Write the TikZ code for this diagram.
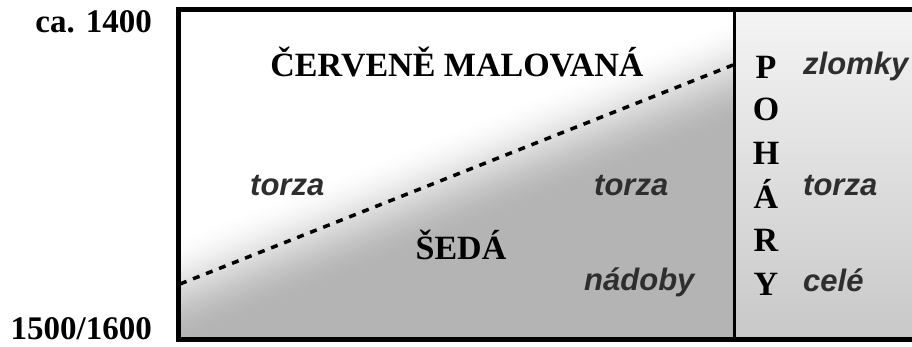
\documentclass[tikz,border=0pt]{standalone}
\usepackage{fontspec}
\setmainfont{Liberation Serif}
\newfontfamily\labelsans{Liberation Sans}
\definecolor{labelgray}{HTML}{2E2E2E}
\definecolor{rtop}{HTML}{F4F4F4}
\definecolor{rmid}{HTML}{E2E2E2}
\definecolor{rbot}{HTML}{C8C8C8}
\begin{document}
\begin{tikzpicture}[x=1pt,y=1pt,
  seriflab/.style={font=\fontsize{34}{34}\selectfont\bfseries, inner sep=0pt, text=black},
  timelab/.style={font=\fontsize{33}{33}\selectfont\bfseries, inner sep=0pt, text=black},
  sanslab/.style={font=\labelsans\fontsize{31}{31}\selectfont\bfseries\itshape, inner sep=0pt, text=labelgray},
  frameline/.style={line width=5pt, line join=miter},
  divline/.style={line width=3pt},
  bordline/.style={line width=3.5pt, dash pattern=on 7pt off 7pt}]
\useasboundingbox (0,0) rectangle (912,347);
% coordinates
\coordinate (tl) at (178.5,337.5);
\coordinate (bl) at (178.5,7.5);
\coordinate (tr) at (912,337.5);
\coordinate (br) at (912,7.5);
\coordinate (dt) at (734.5,337.5);
\coordinate (db) at (734.5,7.5);
\coordinate (lineL) at (180,63);
\coordinate (lineR) at (733,282);
% left panel: gradient parallel to the border line
\begin{scope}
  \clip (bl) rectangle (dt);
  \fill[white] (bl) rectangle (dt);
  \begin{scope}[shift={(456.5,172.5)}, rotate=21.6]
    \foreach \i in {0,...,100}{
      \pgfmathsetmacro\gvv{45-\i}
      \pgfmathsetmacro\gtt{\i/100}
      \pgfmathsetmacro\gpp{29.4*\gtt*\gtt*(3-2*\gtt)}
      \fill[black!\gpp] (-800,\gvv) rectangle (800,-500);
    }
  \end{scope}
\end{scope}
% right panel
\shade[top color=rtop, middle color=rmid, bottom color=rbot] (db) rectangle (tr);
% frame
\draw[frameline] (tr) -- (tl) -- (bl) -- (br);
\draw[divline] (dt) -- (db);
\draw[bordline] (lineL) -- (lineR);
% time labels
\node[timelab, anchor=base east] (n1400) at (152,314) {ca. 1400};
\node[timelab, anchor=base east] (n1500) at (152,7) {1500/1600};
% left panel labels
\node[seriflab, anchor=base] (cerv) at (457,270) {ČERVENĚ MALOVANÁ};
\node[seriflab, anchor=base] (seda) at (461,87) {ŠEDÁ};
\node[sanslab, anchor=base west] (torzaL) at (250,151) {torza};
\node[sanslab, anchor=base west] (torzaM) at (594,151) {torza};
\node[sanslab, anchor=base west] (nadoby) at (584,56) {nádoby};
% right panel labels
\node[seriflab, anchor=base] (pP) at (766,268) {P};
\node[seriflab, anchor=base] (pO) at (766,226) {O};
\node[seriflab, anchor=base] (pH) at (766,182) {H};
\node[seriflab, anchor=base] (pA) at (766,138) {Á};
\node[seriflab, anchor=base] (pR) at (766,95) {R};
\node[seriflab, anchor=base] (pY) at (766,51) {Y};
\node[sanslab, anchor=base west] (zlomky) at (803,272) {zlomky};
\node[sanslab, anchor=base west] (torzaR) at (803,151) {torza};
\node[sanslab, anchor=base west] (cele) at (803,55) {celé};
\end{tikzpicture}
\end{document}
